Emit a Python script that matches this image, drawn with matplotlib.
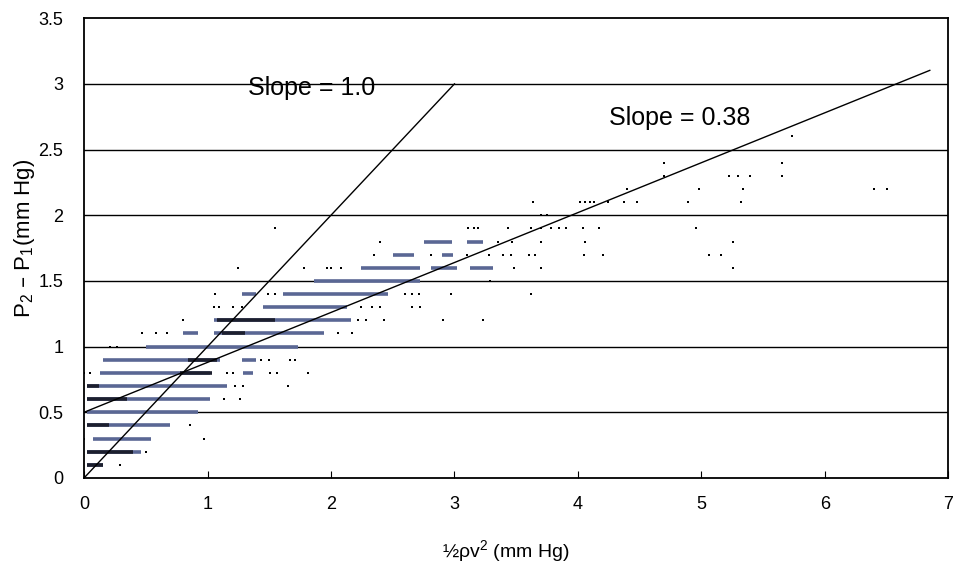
import numpy as np
import matplotlib.pyplot as plt

plt.rcParams['font.family'] = ['Liberation Sans', 'DejaVu Sans']
plt.rcParams['mathtext.default'] = 'regular'

# dense runs of readings along each 0.1 mm Hg level: (level, x start, x end)
run_y = [0.1, 0.2, 0.3, 0.4, 0.5, 0.6, 0.7, 0.8, 0.8, 0.9, 0.9, 1.0,
         1.1, 1.1, 1.2, 1.3, 1.4, 1.4, 1.5, 1.6, 1.6, 1.6, 1.7, 1.7, 1.8, 1.8]
run_x0 = [0.02, 0.02, 0.07, 0.02, 0.02, 0.02, 0.02, 0.13, 1.29, 0.15, 1.28, 0.50,
          0.80, 1.05, 1.05, 1.45, 1.28, 1.61, 1.86, 2.24, 2.81, 3.13, 2.50, 2.90, 2.75, 3.10]
run_x1 = [0.15, 0.46, 0.54, 0.70, 0.92, 1.02, 1.16, 1.02, 1.37, 1.10, 1.39, 1.73,
          0.92, 1.94, 2.16, 2.13, 1.39, 2.46, 2.72, 2.72, 3.02, 3.31, 2.67, 2.99, 2.98, 3.23]

# heavily overplotted parts of the runs
dark_y = [0.1, 0.2, 0.4, 0.6, 0.7, 0.8, 0.9, 1.1, 1.2]
dark_x0 = [0.02, 0.02, 0.02, 0.02, 0.02, 0.78, 0.84, 1.12, 1.08]
dark_x1 = [0.15, 0.40, 0.20, 0.35, 0.12, 1.04, 1.08, 1.30, 1.55]

# isolated readings
dot_x = [0.29, 0.50, 0.00, 0.97, 0.86, 1.13, 1.26, 1.22, 1.29, 1.65,
         0.00, 0.05, 1.16, 1.21, 1.51, 1.56, 1.81,
         1.43, 1.50, 1.67, 1.71, 0.21, 0.27,
         0.47, 0.58, 0.67, 2.06, 2.17,
         0.80, 2.22, 2.28, 2.43, 2.91, 3.23,
         1.05, 1.09, 1.21, 1.28, 2.24, 2.33, 2.40, 2.66, 2.72,
         1.06, 1.49, 1.55, 2.60, 2.66, 2.71, 2.97, 3.62,
         3.29,
         1.25, 1.78, 1.97, 2.00, 2.08, 3.48, 3.70, 5.26,
         2.35, 2.81, 3.10, 3.28, 3.39, 3.46, 3.60, 3.65, 4.05, 4.20, 5.06, 5.16,
         2.40, 3.35, 3.47, 3.70, 4.06, 5.26,
         1.55, 3.11, 3.16, 3.19, 3.43, 3.62, 3.70, 3.78, 3.85, 3.90, 4.04, 4.17, 4.96,
         3.70, 3.75,
         3.64, 4.02, 4.06, 4.10, 4.13, 4.24, 4.37, 4.48, 4.89, 5.32,
         4.40, 4.98, 5.34, 6.40, 6.50,
         4.70, 5.22, 5.30, 5.39, 5.65,
         4.70, 5.65,
         5.73]
dot_y = [0.1, 0.2, 0.3, 0.3, 0.4, 0.6, 0.6, 0.7, 0.7, 0.7,
         0.8, 0.8, 0.8, 0.8, 0.8, 0.8, 0.8,
         0.9, 0.9, 0.9, 0.9, 1.0, 1.0,
         1.1, 1.1, 1.1, 1.1, 1.1,
         1.2, 1.2, 1.2, 1.2, 1.2, 1.2,
         1.3, 1.3, 1.3, 1.3, 1.3, 1.3, 1.3, 1.3, 1.3,
         1.4, 1.4, 1.4, 1.4, 1.4, 1.4, 1.4, 1.4,
         1.5,
         1.6, 1.6, 1.6, 1.6, 1.6, 1.6, 1.6, 1.6,
         1.7, 1.7, 1.7, 1.7, 1.7, 1.7, 1.7, 1.7, 1.7, 1.7, 1.7, 1.7,
         1.8, 1.8, 1.8, 1.8, 1.8, 1.8,
         1.9, 1.9, 1.9, 1.9, 1.9, 1.9, 1.9, 1.9, 1.9, 1.9, 1.9, 1.9, 1.9,
         2.0, 2.0,
         2.1, 2.1, 2.1, 2.1, 2.1, 2.1, 2.1, 2.1, 2.1, 2.1,
         2.2, 2.2, 2.2, 2.2, 2.2,
         2.3, 2.3, 2.3, 2.3, 2.3,
         2.4, 2.4,
         2.6]

# fitted lines: (x start, x end, intercept, slope)
fit_x = [[0, 3.0], [0, 6.85]]
fit_b = [0.0, 0.5]
fit_m = [1.0, 0.38]
fit_labels = ['Slope = 1.0', 'Slope = 0.38']
label_pos = [(1.33, 2.97), (4.25, 2.74)]

fig = plt.figure(figsize=(9.55, 5.69), dpi=100)
ax = fig.add_axes([0.088, 0.160, 0.905, 0.808])

for y in np.arange(0.5, 3.01, 0.5):
    ax.axhline(y, color='black', lw=1.0, zorder=1)

ax.hlines(run_y, run_x0, run_x1, color='#5a6794', lw=2.6, zorder=2)
ax.hlines(dark_y, dark_x0, dark_x1, color='#1c1f2e', lw=2.6, zorder=2)
ax.scatter(dot_x, dot_y, s=3, marker='s', color='black', lw=0, zorder=3)

for xs, b, m, txt, pos in zip(fit_x, fit_b, fit_m, fit_labels, label_pos):
    xs = np.array(xs)
    ax.plot(xs, b + m * xs, color='black', lw=1.0, zorder=4)
    ax.text(pos[0], pos[1], txt, fontsize=18, va='center', ha='left')

ax.set_xlim(0, 7)
ax.set_ylim(0, 3.5)
ax.set_xticks(range(0, 8))
ax.set_yticks([0, 0.5, 1, 1.5, 2, 2.5, 3, 3.5])
ax.set_yticklabels(['0', '0.5', '1', '1.5', '2', '2.5', '3', '3.5'])
ax.tick_params(axis='x', direction='in', length=5, pad=13, labelsize=13)
ax.tick_params(axis='y', direction='in', length=0, pad=15, labelsize=13)
for s in ax.spines.values():
    s.set_linewidth(1.3)

ax.set_xlabel('½ρv$^2$ (mm Hg)', fontsize=14)
ax.set_ylabel('P$_2$ – P$_1$(mm Hg)', fontsize=16)
ax.xaxis.set_label_coords(0.488, -0.13)
ax.yaxis.set_label_coords(-0.054, 0.52)

fig.savefig('out.png', dpi=100)
